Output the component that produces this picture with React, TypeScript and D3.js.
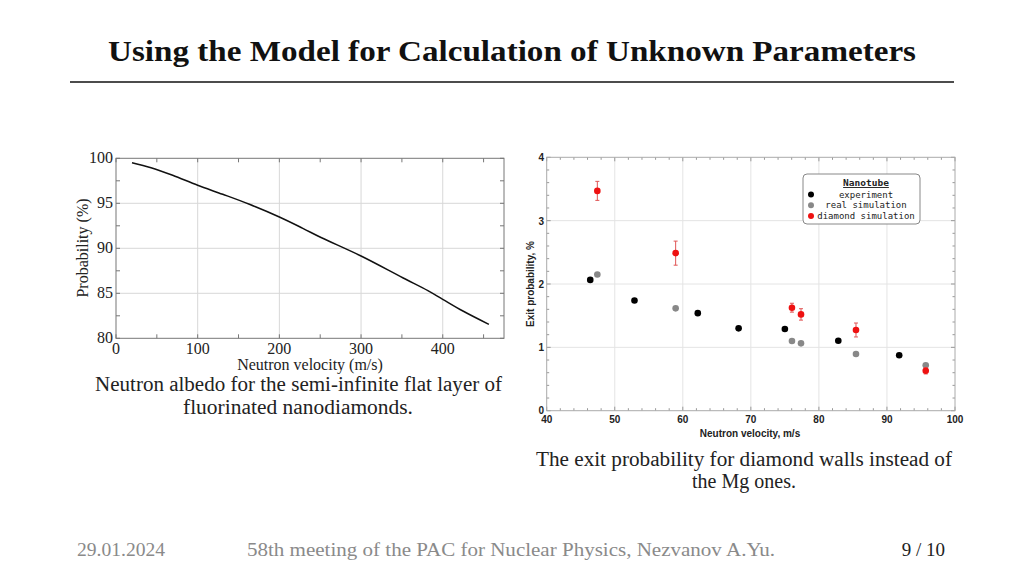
import React from "react";
import * as d3 from "d3";

// Left chart: neutron albedo curve
const albedoVelocity = [19.6, 42.9, 69.4, 100, 130.7, 163.3, 200, 228.7, 251, 300, 351, 381.8, 400, 424.7, 456.5];
const albedoProb = [99.51, 98.96, 98.11, 97.0, 96.0, 94.89, 93.48, 92.22, 91.2, 89.14, 86.73, 85.3, 84.33, 83.03, 81.55];
const leftXTicks = [0, 100, 200, 300, 400];
const leftYTicks = [80, 85, 90, 95, 100];

// Right chart: exit probability
const expV = [46.4, 52.9, 62.2, 68.2, 75.0, 82.85, 91.8];
const expP = [2.065, 1.74, 1.54, 1.30, 1.29, 1.105, 0.875];
const expErr = [0.03, 0.03, 0.03, 0.02, 0.02, 0.02, 0.02];
const realV = [47.44, 58.95, 76.04, 77.37, 85.45, 95.7];
const realP = [2.15, 1.616, 1.10, 1.063, 0.895, 0.716];
const diamV = [47.44, 58.95, 76.04, 77.37, 85.45, 95.7];
const diamP = [3.47, 2.487, 1.626, 1.52, 1.274, 0.63];
const diamErr = [0.15, 0.19, 0.07, 0.09, 0.11, 0.05];
const rightXTicks = [40, 50, 60, 70, 80, 90, 100];
const rightYTicks = [0, 1, 2, 3, 4];
const legendLabels = ["experiment", "real simulation", "diamond simulation"];
const legendColors = ["#000000", "#888888", "#ee1111"];

const serif = "'Liberation Serif', 'Times New Roman', serif";
const sans = "'Liberation Sans', Arial, sans-serif";
const mono = "'DejaVu Sans Mono', 'Liberation Mono', monospace";

export default function App() {
  // Left chart scales
  const lx = d3.scaleLinear().domain([0, 475]).range([116, 504]);
  const ly = d3.scaleLinear().domain([80, 100]).range([338.3, 158.3]);
  const leftLine = d3
    .line<number>()
    .x((_, i) => lx(albedoVelocity[i]))
    .y((d) => ly(d))
    .curve(d3.curveCatmullRom.alpha(0.5))(albedoProb) as string;
  const lxMinor = d3.range(0, 476, 50);
  const lyMinor = d3.range(80, 100.01, 2.5);

  // Right chart scales
  const rx = d3.scaleLinear().domain([40, 100]).range([546.7, 955]);
  const ry = d3.scaleLinear().domain([0, 4]).range([410.7, 157.3]);
  const rxMinor = d3.range(40, 100.01, 2);
  const ryMinor = d3.range(0, 4.001, 0.2);

  const lL = lx.range()[0], lR = lx.range()[1], lT = ly.range()[1], lB = ly.range()[0];
  const rL = rx.range()[0], rR = rx.range()[1], rT = ry.range()[1], rB = ry.range()[0];

  return (
    <svg
      width={1024}
      height={576}
      style={{ position: "absolute", left: 0, top: 0, background: "#fff" }}
    >
      {/* Title */}
      <text
        x={108}
        y={61}
        fontFamily={serif}
        fontWeight="bold"
        fontSize={30}
        fill="#111"
        textLength={808}
        lengthAdjust="spacingAndGlyphs"
      >
        Using the Model for Calculation of Unknown Parameters
      </text>
      <line x1={70} x2={954} y1={82} y2={82} stroke="#111" strokeWidth={1.6} />

      {/* LEFT CHART */}
      <g>
        {leftXTicks.slice(1).map((t) => (
          <line key={"lgx" + t} x1={lx(t)} x2={lx(t)} y1={lT} y2={lB} stroke="#d8d8d8" strokeWidth={1} />
        ))}
        {leftYTicks.slice(1, -1).map((t) => (
          <line key={"lgy" + t} x1={lL} x2={lR} y1={ly(t)} y2={ly(t)} stroke="#d8d8d8" strokeWidth={1} />
        ))}
        {lxMinor.map((t) => (
          <g key={"lxm" + t}>
            <line x1={lx(t)} x2={lx(t)} y1={lB} y2={lB - 4} stroke="#777" />
            <line x1={lx(t)} x2={lx(t)} y1={lT} y2={lT + 4} stroke="#777" />
          </g>
        ))}
        {lyMinor.map((t) => (
          <g key={"lym" + t}>
            <line x1={lL} x2={lL + 4} y1={ly(t)} y2={ly(t)} stroke="#777" />
            <line x1={lR} x2={lR - 4} y1={ly(t)} y2={ly(t)} stroke="#777" />
          </g>
        ))}
        <rect x={lL} y={lT} width={lR - lL} height={lB - lT} fill="none" stroke="#777" strokeWidth={1} />
        <path d={leftLine} fill="none" stroke="#111" strokeWidth={1.5} />
        {leftXTicks.map((t) => (
          <text key={"lxt" + t} x={lx(t)} y={354} textAnchor="middle" fontFamily={serif} fontSize={16} fill="#222">
            {t}
          </text>
        ))}
        {leftYTicks.map((t) => (
          <text key={"lyt" + t} x={113} y={ly(t) + 5} textAnchor="end" fontFamily={serif} fontSize={16} fill="#222">
            {t}
          </text>
        ))}
        <text x={310} y={370} textAnchor="middle" fontFamily={serif} fontSize={16} fill="#222">
          Neutron velocity (m/s)
        </text>
        <text
          transform={`translate(88,248) rotate(-90)`}
          textAnchor="middle"
          fontFamily={serif}
          fontSize={16}
          fill="#222"
        >
          Probability (%)
        </text>
        <text x={95} y={391} fontFamily={serif} fontSize={20} fill="#222" textLength={407} lengthAdjust="spacingAndGlyphs">
          Neutron albedo for the semi-infinite flat layer of
        </text>
        <text x={183} y={414} fontFamily={serif} fontSize={20} fill="#222" textLength={230} lengthAdjust="spacingAndGlyphs">
          fluorinated nanodiamonds.
        </text>
      </g>

      {/* RIGHT CHART */}
      <g>
        {rightXTicks.slice(1, -1).map((t) => (
          <line key={"rgx" + t} x1={rx(t)} x2={rx(t)} y1={rT} y2={rB} stroke="#e4e4e4" strokeWidth={1} />
        ))}
        {rightYTicks.slice(1, -1).map((t) => (
          <line key={"rgy" + t} x1={rL} x2={rR} y1={ry(t)} y2={ry(t)} stroke="#e4e4e4" strokeWidth={1} />
        ))}
        {rxMinor.map((t) => {
          const major = Math.abs(t % 10) < 1e-6;
          const len = major ? 4 : 2.5;
          return (
            <g key={"rxm" + t}>
              <line x1={rx(t)} x2={rx(t)} y1={rB} y2={rB - len} stroke="#999" />
              <line x1={rx(t)} x2={rx(t)} y1={rT} y2={rT + len} stroke="#999" />
            </g>
          );
        })}
        {ryMinor.map((t, i) => {
          const major = i % 5 === 0;
          const len = major ? 4 : 2.5;
          return (
            <g key={"rym" + i}>
              <line x1={rL} x2={rL + len} y1={ry(t)} y2={ry(t)} stroke="#999" />
              <line x1={rR} x2={rR - len} y1={ry(t)} y2={ry(t)} stroke="#999" />
            </g>
          );
        })}
        <rect x={rL} y={rT} width={rR - rL} height={rB - rT} fill="none" stroke="#aaa" strokeWidth={1} />

        {/* experiment */}
        {expV.map((v, i) => (
          <g key={"e" + i}>
            <line x1={rx(v)} x2={rx(v)} y1={ry(expP[i] - expErr[i])} y2={ry(expP[i] + expErr[i])} stroke="#000" />
            <circle cx={rx(v)} cy={ry(expP[i])} r={3.3} fill="#000" />
          </g>
        ))}
        {/* real simulation */}
        {realV.map((v, i) => (
          <circle key={"r" + i} cx={rx(v)} cy={ry(realP[i])} r={3.3} fill="#888" />
        ))}
        {/* diamond simulation */}
        {diamV.map((v, i) => {
          const x = rx(v);
          const y1 = ry(diamP[i] - diamErr[i]);
          const y2 = ry(diamP[i] + diamErr[i]);
          return (
            <g key={"d" + i}>
              <line x1={x} x2={x} y1={y1} y2={y2} stroke="#e05555" strokeWidth={1} />
              <line x1={x - 2} x2={x + 2} y1={y1} y2={y1} stroke="#e05555" strokeWidth={1} />
              <line x1={x - 2} x2={x + 2} y1={y2} y2={y2} stroke="#e05555" strokeWidth={1} />
              <circle cx={x} cy={ry(diamP[i])} r={3.3} fill="#ee1111" />
            </g>
          );
        })}

        {rightXTicks.map((t) => (
          <text key={"rxt" + t} x={rx(t)} y={423} textAnchor="middle" fontFamily={sans} fontWeight="bold" fontSize={10} fill="#222">
            {t}
          </text>
        ))}
        {rightYTicks.map((t) => (
          <text key={"ryt" + t} x={544} y={ry(t) + (t === 0 ? 3 : 4)} textAnchor="end" fontFamily={sans} fontWeight="bold" fontSize={10} fill="#222">
            {t}
          </text>
        ))}
        <text x={750} y={437} textAnchor="middle" fontFamily={sans} fontWeight="bold" fontSize={10} fill="#222">
          Neutron velocity, m/s
        </text>
        <text
          transform={`translate(534,284) rotate(-90)`}
          textAnchor="middle"
          fontFamily={sans}
          fontWeight="bold"
          fontSize={10}
          fill="#222"
        >
          Exit probability, %
        </text>

        {/* legend */}
        <rect x={803} y={174} width={117} height={50} rx={4} fill="#fff" stroke="#888" strokeWidth={1} />
        <text x={866} y={186} textAnchor="middle" fontFamily={mono} fontWeight="bold" fontSize={9.5} fill="#222" textDecoration="underline">
          Nanotube
        </text>
        {legendLabels.map((lab, i) => (
          <g key={"lg" + i}>
            <circle cx={811} cy={194.5 + i * 10.8} r={3} fill={legendColors[i]} />
            <text x={866} y={197.5 + i * 10.8} textAnchor="middle" fontFamily={mono} fontSize={9} fill="#222">
              {lab}
            </text>
          </g>
        ))}

        <text x={536} y={466} fontFamily={serif} fontSize={20} fill="#222" textLength={416} lengthAdjust="spacingAndGlyphs">
          The exit probability for diamond walls instead of
        </text>
        <text x={744} y={488} textAnchor="middle" fontFamily={serif} fontSize={20} fill="#222">
          the Mg ones.
        </text>
      </g>

      {/* Footer */}
      <text x={77} y={556} fontFamily={serif} fontSize={19} fill="#8a8a8a" textLength={88} lengthAdjust="spacingAndGlyphs">
        29.01.2024
      </text>
      <text x={247} y={556} fontFamily={serif} fontSize={19} fill="#8a8a8a" textLength={528} lengthAdjust="spacingAndGlyphs">
        58th meeting of the PAC for Nuclear Physics, Nezvanov A.Yu.
      </text>
      <text x={945} y={556} textAnchor="end" fontFamily={serif} fontSize={19} fill="#222">
        9 / 10
      </text>
    </svg>
  );
}
